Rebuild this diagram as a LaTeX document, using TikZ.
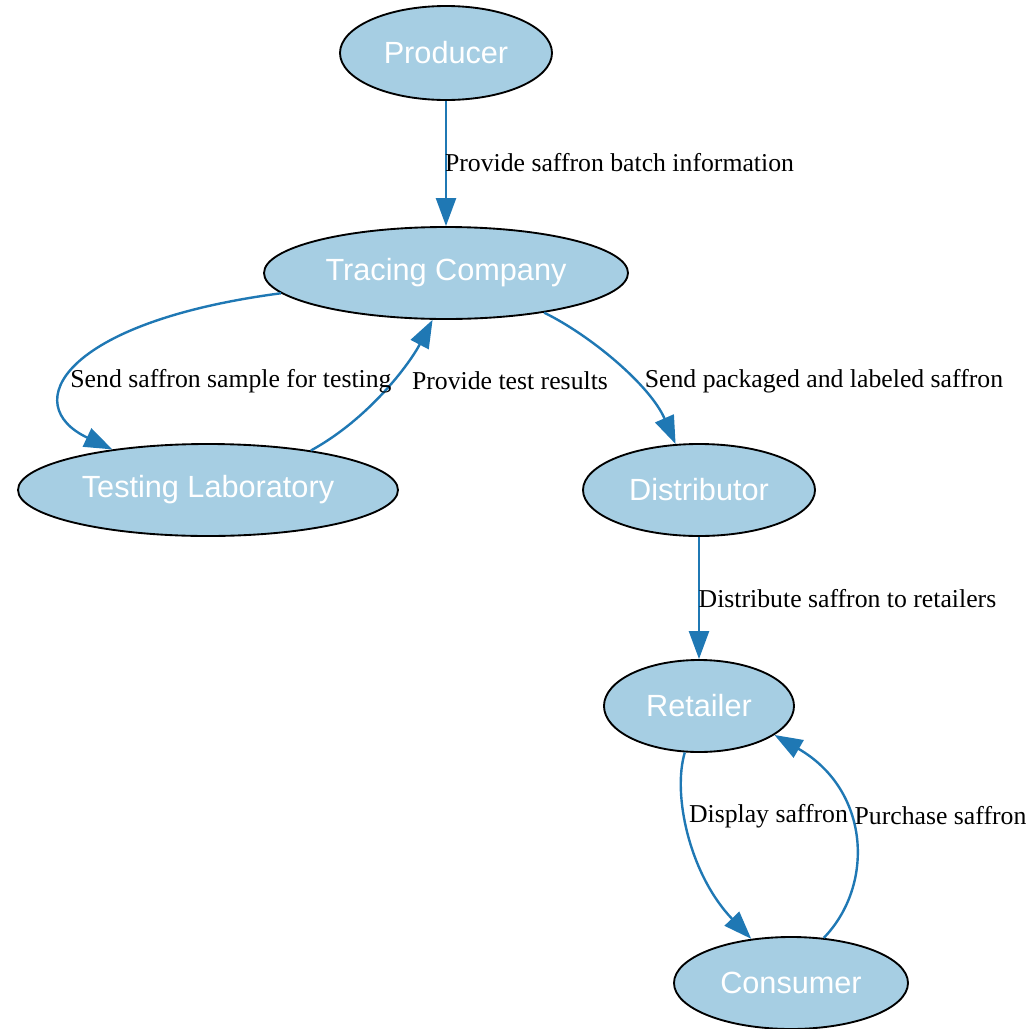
\documentclass[tikz,border=0pt]{standalone}
\usepackage{fontspec}
\setmainfont{Liberation Serif}
\newfontfamily\nodefont{Liberation Sans}
\usetikzlibrary{shapes.geometric,arrows.meta}
\definecolor{nodefill}{HTML}{A6CEE3}
\definecolor{edgeblue}{HTML}{1F78B4}
\begin{document}
\begin{tikzpicture}[x=0.75pt,y=-0.75pt,
  actor/.style={ellipse,draw=black,line width=1.4pt,fill=nodefill,inner sep=0pt,
    text=white,font=\nodefont\fontsize{23}{27}\selectfont},
  flow/.style={draw=edgeblue,line width=1.8pt,-{Triangle[length=21pt,width=15pt]}},
  flowlabel/.style={inner sep=0pt,font=\fontsize{19.3}{23}\selectfont,text=black}]
\useasboundingbox (0,0) rectangle (1033,1029);

% participants
\node[actor,minimum width={212*0.75pt},minimum height={94*0.75pt}] (prod) at (446,53) {Producer};
\node[actor,minimum width={364*0.75pt},minimum height={92*0.75pt}] (tc) at (446,273) {Tracing Company};
\node[actor,minimum width={380*0.75pt},minimum height={92*0.75pt}] (tl) at (208,490) {Testing Laboratory};
\node[actor,minimum width={232*0.75pt},minimum height={92*0.75pt}] (dist) at (699,490) {Distributor};
\node[actor,minimum width={190*0.75pt},minimum height={92*0.75pt}] (ret) at (699,706) {Retailer};
\node[actor,minimum width={234*0.75pt},minimum height={92*0.75pt}] (con) at (791,983) {Consumer};

% flows between participants
\draw[flow] (prod) -- (tc);
\draw[flow] (tc.187) .. controls (62,322) and (18,405) .. (tl.157);
\draw[flow] (tl.21) .. controls (370,418) and (410,363) .. (tc.254);
\draw[flow] (tc.-22) .. controls (590,335) and (650,385) .. (dist.117);
\draw[flow] (dist) -- (ret);
\draw[flow] (ret.253) .. controls (672,795) and (690,875) .. (con.132);
\draw[flow] (con.54) .. controls (875,885) and (870,790) .. (ret.-21);

% flow labels
\node[flowlabel] (l1) at (619.5,163) {Provide saffron batch information};
\node[flowlabel] (l2) at (231,381) {Send saffron sample for testing};
\node[flowlabel] (l3) at (510,381) {Provide test results};
\node[flowlabel] (l4) at (824,381) {Send packaged and labeled saffron};
\node[flowlabel] (l5) at (847.5,599) {Distribute saffron to retailers};
\node[flowlabel] (l6) at (768.5,816) {Display saffron};
\node[flowlabel] (l7) at (940.5,816) {Purchase saffron};
\end{tikzpicture}
\end{document}
